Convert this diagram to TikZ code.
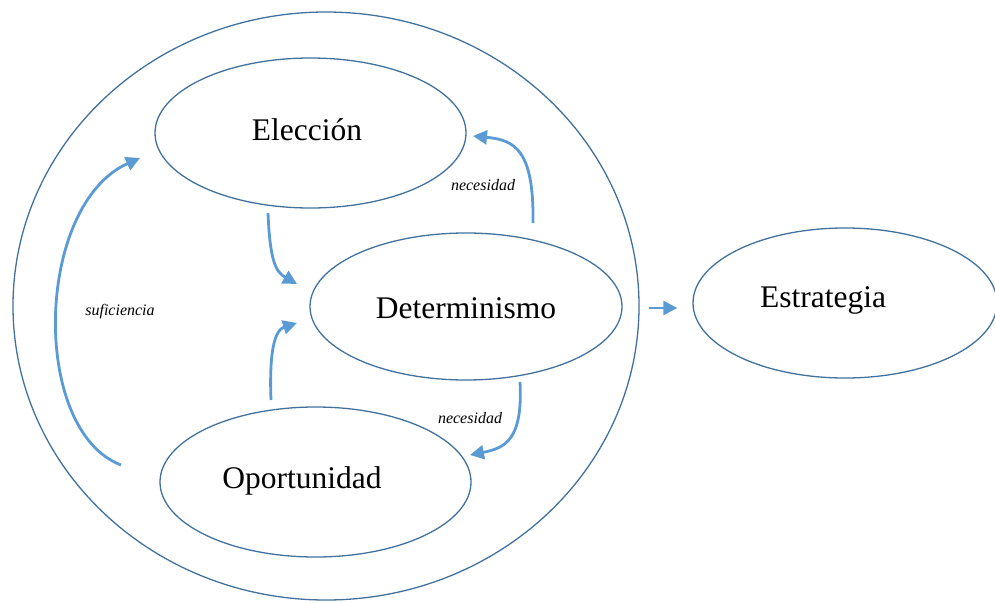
\documentclass[tikz,border=0pt]{standalone}
\usepackage{fontspec}
\setmainfont{Liberation Serif}
\usetikzlibrary{shapes.geometric,arrows.meta}
\definecolor{edgeblue}{HTML}{41719C}
\definecolor{arrowblue}{HTML}{5B9BD5}
\tikzset{
  oval/.style={draw=edgeblue, line width=1.3pt, ellipse, inner sep=0pt},
  bigtext/.style={anchor=base, font=\fontsize{31.5}{36}\selectfont, inner sep=0pt},
  smalltext/.style={anchor=base, font=\fontsize{16}{18}\selectfont\itshape, inner sep=0pt},
  flow/.style={draw=arrowblue, line width=2.8pt, -{Triangle[length=14pt,width=14pt]}},
}
\begin{document}
\begin{tikzpicture}[x=1pt,y=-1pt]
\useasboundingbox (0,0) rectangle (995,602);
\node[oval, minimum width=626pt, minimum height=588pt] (outer) at (326,306) {};
\node[oval, minimum width=311pt, minimum height=150pt] (elec) at (310.5,133) {};
\node[oval, minimum width=312pt, minimum height=147pt] (det) at (466,306.5) {};
\node[oval, minimum width=311pt, minimum height=150pt] (opor) at (315.5,482) {};
\node[oval, minimum width=304pt, minimum height=150pt] (estr) at (845,303) {};

\node[bigtext] (elecT) at (307,140) {Elección};
\node[bigtext] (detT) at (466,318) {Determinismo};
\node[bigtext] (oporT) at (302,488) {Oportunidad};
\node[bigtext] (estrT) at (823,307) {Estrategia};

% Elección -> Determinismo
\draw[flow] ([shift={(-42.5,80)}]elec.center) .. controls ([shift={(-40.5,129)}]elec.center) and ([shift={(-34.5,139)}]elec.center) .. ([shift={(-169,-22.5)}]det.center);
% Oportunidad -> Determinismo
\draw[flow] ([shift={(-44.5,-82)}]opor.center) .. controls ([shift={(-46.5,-132)}]opor.center) and ([shift={(-40.5,-152)}]opor.center) .. ([shift={(-169,16.5)}]det.center);
% suficiencia
\draw[flow] ([shift={(-194.5,-17)}]opor.center) .. controls ([shift={(-285.5,-52)}]opor.center) and ([shift={(-275.5,72)}]elec.center) .. ([shift={(-170.5,25)}]elec.center);
\node[smalltext] (suf) at (120,315) {suficiencia};
% Determinismo -> Elección (necesidad)
\draw[flow] ([shift={(67,-83.5)}]det.center) .. controls ([shift={(68,-156.5)}]det.center) and ([shift={(204.5,7)}]elec.center) .. ([shift={(162.5,3)}]elec.center);
\node[smalltext] (nec1) at (483,190) {necesidad};
% Determinismo -> Oportunidad (necesidad)
\draw[flow] ([shift={(54,75.5)}]det.center) .. controls ([shift={(57,133.5)}]det.center) and ([shift={(189.5,-34)}]opor.center) .. ([shift={(154.5,-27)}]opor.center);
\node[smalltext] (nec2) at (470,423) {necesidad};
% outer -> Estrategia
\draw[flow] ([shift={(9,2)}]outer.east) -- ([shift={(-15,5)}]estr.west);
\end{tikzpicture}
\end{document}
